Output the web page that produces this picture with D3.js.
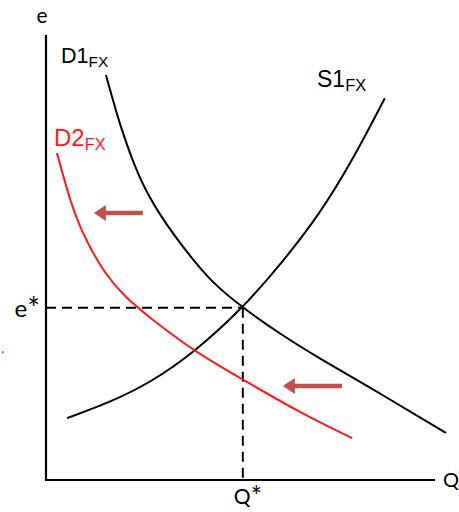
<!DOCTYPE html>
<html>
<head>
<meta charset="utf-8">
<script src="https://cdn.jsdelivr.net/npm/d3@7"></script>
<style>
  body { margin: 0; background: #fff; }
</style>
</head>
<body>
<div id="chart-area"></div>
<script>
const WIDTH = 459
const HEIGHT = 512

// curves, as [Q, e]
const demand1 = [[15.4, 91.0], [17.2, 85.4], [19.3, 79.1], [21.9, 72.6], [25.2, 65.6],
  [30.1, 58.4], [36.2, 51.2], [42.7, 44.3], [50.6, 38.7], [60.2, 32.8],
  [69.7, 27.6], [86.6, 19.1], [102.8, 10.6]]
const demand2 = [[2.8, 73.5], [4.4, 68.5], [6.2, 62.9], [8.5, 57.3], [11.6, 51.7],
  [15.4, 46.1], [20.1, 41.3], [26.7, 36.4], [38.8, 28.5], [50.4, 22.7],
  [65.3, 15.1], [78.7, 9.4]]
const supply1 = [[5.4, 13.9], [16.5, 17.5], [26.7, 21.8], [38.3, 28.8], [50.6, 38.7],
  [60.2, 48.3], [70.4, 59.8], [78.7, 71.7], [87.1, 85.8]]
const qStar = 50.6
const eStar = 38.7
// shift arrows: [fromQ, toQ, e]
const shifts = [[24.9, 12.3, 60.0], [76.1, 60.9, 21.1]]

const svg = d3.select("#chart-area").append("svg")
  .attr("width", WIDTH)
  .attr("height", HEIGHT)

const x = d3.scaleLinear().domain([0, 100]).range([46, 435])
const y = d3.scaleLinear().domain([0, 100]).range([480, 35])

const line = d3.line()
  .x(d => x(d[0]))
  .y(d => y(d[1]))
  .curve(d3.curveBasis)

// dashed guides
svg.append("line")
  .attr("x1", x(0)).attr("x2", x(qStar))
  .attr("y1", y(eStar)).attr("y2", y(eStar))
  .attr("stroke", "#000").attr("stroke-width", 2)
  .attr("stroke-dasharray", "10,6")
svg.append("line")
  .attr("x1", x(qStar)).attr("x2", x(qStar))
  .attr("y1", y(eStar)).attr("y2", y(0))
  .attr("stroke", "#000").attr("stroke-width", 2)
  .attr("stroke-dasharray", "10,6")

// curves
svg.append("path").datum(demand1)
  .attr("d", line).attr("fill", "none")
  .attr("stroke", "#000").attr("stroke-width", 2)
svg.append("path").datum(supply1)
  .attr("d", line).attr("fill", "none")
  .attr("stroke", "#000").attr("stroke-width", 2)
svg.append("path").datum(demand2)
  .attr("d", line).attr("fill", "none")
  .attr("stroke", "#ff1a1a").attr("stroke-width", 2)

// axes
svg.append("line")
  .attr("x1", x(0)).attr("x2", x(0))
  .attr("y1", y(100)).attr("y2", y(0))
  .attr("stroke", "#000").attr("stroke-width", 2.2)
svg.append("line")
  .attr("x1", x(0) - 1).attr("x2", x(100))
  .attr("y1", y(0)).attr("y2", y(0))
  .attr("stroke", "#000").attr("stroke-width", 2.2)

// shift arrows
shifts.forEach(s => {
  const x0 = x(s[0]), x1 = x(s[1]), yy = y(s[2])
  svg.append("line")
    .attr("x1", x0).attr("x2", x1 + 10)
    .attr("y1", yy).attr("y2", yy)
    .attr("stroke", "#c0504d").attr("stroke-width", 4.5)
  svg.append("path")
    .attr("d", `M${x1},${yy} L${x1 + 12},${yy - 8} L${x1 + 12},${yy + 8} Z`)
    .attr("fill", "#c0504d")
})

// curve labels
const lab = (tx, ty, main, sub, size, subSize, color) => {
  const t = svg.append("text")
    .attr("x", tx).attr("y", ty)
    .style("font-family", "'Liberation Sans', Arial, sans-serif")
    .style("font-size", size + "px")
    .attr("fill", color)
  t.append("tspan").text(main)
  t.append("tspan").attr("dy", 4).style("font-size", subSize + "px").text(sub)
}
lab(61, 63, "D1", "FX", 21.5, 15.5, "#000")
lab(54, 146, "D2", "FX", 24, 16.5, "#ff1a1a")
lab(317, 87, "S1", "FX", 23, 16.5, "#000")

// axis labels
const axisLabel = (tx, ty, txt, star, size, anchor) => {
  const t = svg.append("text")
    .attr("x", tx).attr("y", ty)
    .attr("text-anchor", anchor)
    .style("font-family", "Lato, 'Open Sans', sans-serif")
    .style("font-size", size + "px")
    .attr("fill", "#000")
  t.append("tspan").text(txt)
  if (star) t.append("tspan").attr("dy", 2).style("font-size", (size * 1.25) + "px").text("*")
}

axisLabel(x(0) - 4, 23, "e", false, 21, "middle")
axisLabel(x(0) - 6, y(eStar) + 9, "e", true, 24, "end")
axisLabel(x(qStar) + 5, 504, "Q", true, 21, "middle")
axisLabel(x(100) + 8, 487, "Q", false, 20, "start")

// small stray mark at left
svg.append("rect")
  .attr("x", 2).attr("y", 351).attr("width", 1.5).attr("height", 2.5)
  .attr("fill", "#ff4040")
</script>
</body>
</html>
